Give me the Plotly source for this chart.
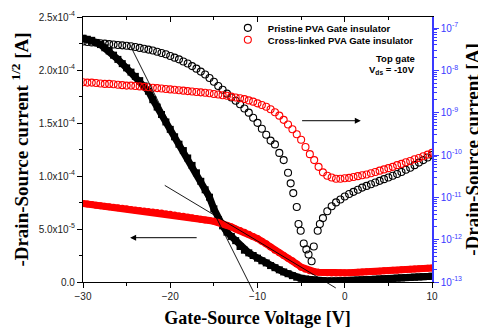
import plotly.graph_objects as go

# ---------------- data ----------------
# gate voltage grid (V)
vg = [-30, -29.5, -29, -28.5, -28, -27.5, -27, -26.5, -26, -25.5, -25, -24.5, -24, -23.5, -23, -22.5,
      -22, -21.5, -21, -20.5, -20, -19.5, -19, -18.5, -18, -17.5, -17, -16.5, -16, -15.5, -15, -14.5,
      -14, -13.5, -13, -12.5, -12, -11.5, -11, -10.5, -10, -9.5, -9, -8.5, -8, -7.5, -7, -6.5,
      -6, -5.5, -5, -4.5, -4, -3.5, -3, -2.5, -2, -1.5, -1, -0.5, 0, 0.5, 1, 1.5,
      2, 2.5, 3, 3.5, 4, 4.5, 5, 5.5, 6, 6.5, 7, 7.5, 8, 8.5, 9, 9.5, 10]

# sqrt(-Ids), units of 1e-5 A^1/2
pristine_sqrt = [23.0, 22.9, 22.8, 22.6, 22.4, 22.1, 21.8, 21.4, 21.0, 20.6, 20.2, 19.8, 19.4, 19.0, 18.5, 18.0,
                 17.2, 16.5, 15.8, 15.1, 14.4, 13.7, 13.0, 12.4, 11.7, 11.0, 10.3, 9.5, 8.7, 8.0, 6.9, 5.9,
                 5.3, 4.7, 4.3, 3.9, 3.35, 3.0, 2.75, 2.5, 2.25, 2.0, 1.8, 1.55, 1.35, 1.15, 0.95, 0.78,
                 0.6, 0.45, 0.35, 0.28, 0.22, 0.18, 0.15, 0.12, 0.1, 0.1, 0.1, 0.1, 0.12, 0.14, 0.16, 0.18,
                 0.2, 0.22, 0.24, 0.26, 0.28, 0.3, 0.32, 0.34, 0.37, 0.39, 0.41, 0.44, 0.46, 0.48, 0.5, 0.52, 0.55]

crosslinked_sqrt = [7.4, 7.35, 7.3, 7.25, 7.2, 7.15, 7.1, 7.05, 7.0, 6.95, 6.9, 6.85, 6.8, 6.75, 6.7, 6.65,
                    6.6, 6.55, 6.5, 6.45, 6.4, 6.33, 6.26, 6.2, 6.13, 6.06, 6.0, 5.93, 5.86, 5.8, 5.72, 5.63,
                    5.5, 5.35, 5.2, 5.0, 4.85, 4.7, 4.5, 4.3, 4.1, 3.85, 3.6, 3.3, 3.0, 2.75, 2.5, 2.25,
                    2.0, 1.7, 1.4, 1.2, 1.05, 0.98, 0.93, 0.9, 0.87, 0.85, 0.85, 0.85, 0.86, 0.88, 0.9, 0.92,
                    0.94, 0.96, 0.98, 1.0, 1.02, 1.05, 1.07, 1.1, 1.12, 1.15, 1.17, 1.2, 1.22, 1.25, 1.27, 1.3, 1.32]

# log10(-Ids) of the pristine device (own sampling through the dip)
vg_pristine_log = [-30, -29.5, -29, -28.5, -28, -27.5, -27, -26.5, -26, -25.5, -25, -24.5, -24, -23.5, -23, -22.5,
                   -22, -21.5, -21, -20.5, -20, -19.5, -19, -18.5, -18, -17.5, -17, -16.5, -16, -15.5, -15, -14.5,
                   -14, -13.5, -13, -12.5, -12, -11.5, -11, -10.5, -10, -9.5, -9, -8.5, -8, -7.5, -7, -6.5,
                   -6.2, -5.9, -5.5, -5.3, -5.05, -4.7, -4.4, -4.15, -3.8, -3.55, -3.1, -2.85, -2.5, -2.0, -1.5,
                   -1.0, -0.5, 0, 0.5, 1, 1.5, 2, 2.5, 3, 3.5, 4, 4.5, 5, 5.5, 6, 6.5, 7, 7.5, 8, 8.5, 9, 9.5, 10]
pristine_log = [-7.32, -7.33, -7.34, -7.35, -7.36, -7.37, -7.38, -7.39, -7.40, -7.41, -7.42, -7.43, -7.45, -7.47, -7.49, -7.51,
                -7.53, -7.56, -7.59, -7.62, -7.66, -7.70, -7.74, -7.79, -7.84, -7.90, -7.96, -8.03, -8.10, -8.18, -8.27, -8.37,
                -8.46, -8.55, -8.64, -8.72, -8.80, -8.90, -9.00, -9.12, -9.24, -9.38, -9.52, -9.66, -9.75, -9.95, -10.12, -10.42,
                -10.67, -10.9, -11.23, -11.63, -11.79, -12.09, -12.23, -12.35, -12.51, -12.16, -11.79, -11.63, -11.49, -11.33, -11.21,
                -11.12, -11.05, -10.98, -10.92, -10.87, -10.82, -10.77, -10.73, -10.69, -10.65, -10.61, -10.57, -10.53, -10.49, -10.45,
                -10.40, -10.35, -10.30, -10.24, -10.18, -10.12, -10.06, -10.0]

# log10(-Ids) of the cross-linked device
crosslinked_log = [-8.28, -8.29, -8.29, -8.30, -8.31, -8.32, -8.32, -8.33, -8.34, -8.35, -8.36, -8.36, -8.37, -8.38, -8.39, -8.40,
                   -8.41, -8.42, -8.43, -8.44, -8.45, -8.46, -8.47, -8.48, -8.49, -8.50, -8.51, -8.52, -8.53, -8.54, -8.56, -8.57,
                   -8.59, -8.60, -8.62, -8.64, -8.66, -8.68, -8.71, -8.74, -8.78, -8.82, -8.86, -8.92, -8.99, -9.07, -9.17, -9.28,
                   -9.39, -9.51, -9.64, -9.81, -9.98, -10.12, -10.28, -10.41, -10.49, -10.53, -10.56, -10.56, -10.55, -10.54, -10.52, -10.50,
                   -10.48, -10.46, -10.43, -10.40, -10.37, -10.34, -10.31, -10.28, -10.24, -10.21, -10.17, -10.14, -10.10, -10.07, -10.03, -9.99, -9.95]

# tangent (threshold) lines: endpoints (V, 1e-5 A^1/2)
pristine_fit_x = [-24.7, -10.46]
pristine_fit_y = [22.5, -0.93]
crosslinked_fit_x = [-20.8, -1.03]
crosslinked_fit_y = [9.2, -0.56]

# axis arrows: left one to sqrt axis (1e-5), right one to log axis (log10)
left_arrow_x = [-16.8, -24.6]
left_arrow_y = 4.18
right_arrow_x = [-5.06, 1.84]
right_arrow_logy = -9.19

x_ticks = [-30, -20, -10, 0, 10]
sqrt_tick_vals = [0, 5e-5, 1e-4, 1.5e-4, 2e-4, 2.5e-4]
sqrt_tick_text = ["0.0", "5.0x10<sup>-5</sup>", "1.0x10<sup>-4</sup>", "1.5x10<sup>-4</sup>",
                  "2.0x10<sup>-4</sup>", "2.5x10<sup>-4</sup>"]
log_tick_vals = [1e-13, 1e-12, 1e-11, 1e-10, 1e-9, 1e-8, 1e-7]
log_tick_text = ["10<sup>-13</sup>", "10<sup>-12</sup>", "10<sup>-11</sup>", "10<sup>-10</sup>",
                 "10<sup>-9</sup>", "10<sup>-8</sup>", "10<sup>-7</sup>"]

# ---------------- figure ----------------
BLUE = "#3a3aff"
SANS = "Liberation Sans, Arial, sans-serif"
SERIF = "Liberation Serif, Times New Roman, serif"

fig = go.Figure()

fig.add_trace(go.Scatter(x=vg, y=[v * 1e-5 for v in pristine_sqrt], mode="lines+markers",
                         line=dict(color="black", width=7),
                         marker=dict(symbol="square", size=7, color="black"),
                         showlegend=False, yaxis="y"))
fig.add_trace(go.Scatter(x=vg, y=[v * 1e-5 for v in crosslinked_sqrt], mode="lines+markers",
                         line=dict(color="#ff0000", width=7),
                         marker=dict(symbol="circle", size=7, color="#ff0000"),
                         showlegend=False, yaxis="y"))
fig.add_trace(go.Scatter(x=vg_pristine_log, y=[10 ** v for v in pristine_log], mode="markers",
                         name="Pristine PVA Gate insulator", legend="legend",
                         marker=dict(symbol="circle-open", size=7, color="black", line=dict(width=1.1)),
                         yaxis="y2"))
fig.add_trace(go.Scatter(x=vg, y=[10 ** v for v in crosslinked_log], mode="markers",
                         name="Cross-linked PVA Gate insulator", legend="legend2",
                         marker=dict(symbol="circle-open", size=7, color="#ff0000", line=dict(width=1.1)),
                         yaxis="y2"))
# invisible trace to draw the top axis
fig.add_trace(go.Scatter(x=[None], y=[None], xaxis="x2", yaxis="y", showlegend=False, hoverinfo="skip"))

annotations = [
    dict(x=pristine_fit_x[1], y=pristine_fit_y[1] * 1e-5, ax=pristine_fit_x[0], ay=pristine_fit_y[0] * 1e-5,
         xref="x", yref="y", axref="x", ayref="y", text="", showarrow=True, arrowhead=0, arrowwidth=0.9,
         arrowcolor="black"),
    dict(x=crosslinked_fit_x[1], y=crosslinked_fit_y[1] * 1e-5, ax=crosslinked_fit_x[0], ay=crosslinked_fit_y[0] * 1e-5,
         xref="x", yref="y", axref="x", ayref="y", text="", showarrow=True, arrowhead=0, arrowwidth=0.9,
         arrowcolor="black"),
    dict(x=left_arrow_x[1], y=left_arrow_y * 1e-5, ax=left_arrow_x[0], ay=left_arrow_y * 1e-5,
         xref="x", yref="y", axref="x", ayref="y", text="", showarrow=True, arrowhead=2, arrowsize=1.2,
         arrowwidth=1, arrowcolor="black"),
    dict(x=right_arrow_x[1], y=right_arrow_logy, ax=right_arrow_x[0], ay=right_arrow_logy,
         xref="x", yref="y2", axref="x", ayref="y2", text="", showarrow=True, arrowhead=2, arrowsize=1.2,
         arrowwidth=1, arrowcolor="black"),
    dict(x=0.957, y=0.844, xref="paper", yref="paper", xanchor="right", yanchor="middle", showarrow=False,
         text="<b>Top gate</b>", font=dict(family=SANS, size=9.5, color="black")),
    dict(x=0.957, y=0.799, xref="paper", yref="paper", xanchor="right", yanchor="middle", showarrow=False,
         text="<b>V<sub>ds</sub> = -10V</b>", font=dict(family=SANS, size=9.5, color="black")),
]

legend_font = dict(family=SANS, size=9.5, color="black", weight="bold")

# the page body adds an 8 px offset; the figure size and margins compensate for it
fig.update_layout(
    width=478, height=325,
    margin=dict(l=75, r=54, t=5, b=51),
    paper_bgcolor="white", plot_bgcolor="white",
    showlegend=True,
    legend=dict(x=0.415, y=0.959, xanchor="left", yanchor="middle", bgcolor="rgba(0,0,0,0)",
                font=legend_font, itemwidth=30),
    legend2=dict(x=0.415, y=0.914, xanchor="left", yanchor="middle", bgcolor="rgba(0,0,0,0)",
                 font=legend_font, itemwidth=30),
    xaxis=dict(range=[-30, 10], tickvals=x_ticks, ticks="outside", ticklen=5, tickwidth=1, automargin=False,
               tickcolor="black", showline=True, linecolor="black", linewidth=1.2, showgrid=False,
               zeroline=False, minor=dict(dtick=5, tick0=0, ticks="outside", ticklen=3, tickcolor="black"),
               tickfont=dict(family=SANS, size=10, color="#222"),
               title=dict(text="<b>Gate-Source Voltage [V]</b>", font=dict(family=SERIF, size=18, color="black"),
                          standoff=10)),
    xaxis2=dict(range=[-30, 10], overlaying="x", side="top", tickvals=x_ticks, ticks="inside", ticklen=5,
                tickcolor="black", showticklabels=False, showline=True, linecolor="black", linewidth=1.2,
                showgrid=False, zeroline=False, automargin=False,
                minor=dict(dtick=5, tick0=0, ticks="inside", ticklen=3, tickcolor="black")),
    yaxis=dict(range=[0, 2.5e-4], tickvals=sqrt_tick_vals, ticktext=sqrt_tick_text, ticks="outside",
               ticklen=5, tickcolor="black", showline=True, linecolor="black", linewidth=1.2,
               showgrid=False, zeroline=False, automargin=False,
               minor=dict(dtick=2.5e-5, tick0=0, ticks="outside", ticklen=3, tickcolor="black"),
               tickfont=dict(family=SANS, size=10, color="#222"),
               title=dict(text="<b>-Drain-Source current <sup>1/2</sup> [A]</b>",
                          font=dict(family=SERIF, size=19, color="black"), standoff=6)),
    yaxis2=dict(type="log", range=[-13, -6.74], overlaying="y", side="right", tickvals=log_tick_vals,
                ticktext=log_tick_text, ticks="outside", ticklen=5, tickcolor=BLUE, showline=True,
                linecolor=BLUE, linewidth=1.5, showgrid=False, zeroline=False, automargin=False,
                minor=dict(dtick="D1", ticks="outside", ticklen=3, tickcolor=BLUE),
                tickfont=dict(family=SANS, size=10, color=BLUE),
                title=dict(text="<b>-Drain-Source current [A]</b>",
                           font=dict(family=SERIF, size=19, color="black"), standoff=4)),
    annotations=annotations,
)

fig.write_html("out.html")
